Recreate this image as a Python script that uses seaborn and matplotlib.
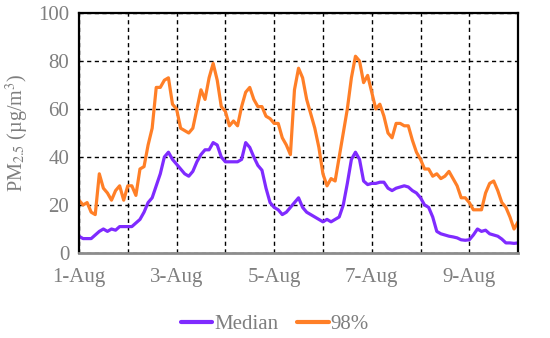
import pandas as pd
import seaborn as sns
import matplotlib.pyplot as plt
import matplotlib.dates as mdates

# PM2.5 readings every 2 hours, 1-Aug 00:00 to 10-Aug 00:00
start = '2019-08-01'
step = '2h'

median = [7, 6, 6, 6, 7.5, 9, 10, 9, 10, 9.5, 11, 11, 11, 11, 12.5, 14, 17, 21,
          23, 28, 33, 40, 42, 39, 37, 35, 33, 32, 34, 38, 41, 43, 43, 46, 45, 40,
          38, 38, 38, 38, 39, 46, 44, 40, 36.5, 34.5, 27, 21, 19, 18, 16, 17, 19, 21,
          23, 19, 17, 16, 15, 14, 13, 14, 13, 14, 15, 20, 29, 39, 42, 39, 30, 28.5,
          29, 29, 29.5, 29.5, 27, 26, 27, 27.5, 28, 27.5, 26, 25, 23, 20, 19, 15,
          9, 8, 7.5, 7, 6.7, 6.3, 5.5, 5.3, 5.5, 7.5, 10, 9, 9.5, 8, 7.5, 7,
          5.8, 4.2, 4.2, 4, 4.2]

p98 = [22, 20, 21, 17, 16, 33, 27, 25, 22, 26, 28, 22, 28, 28, 24, 35, 36, 45,
       52, 69, 69, 72, 73, 62, 60, 52, 51, 50, 52, 60, 68, 64, 73, 79, 72, 61,
       59, 53, 55, 53, 61, 67, 69, 64, 61, 61, 57, 56, 54, 54, 48, 45, 41, 68,
       77, 73, 64, 58, 52, 44, 33, 28, 31, 30, 40, 50, 60, 73, 82, 80, 71, 74,
       67, 60, 62, 57, 50, 48, 54, 54, 53, 53, 47, 42, 39, 35, 35, 32, 33, 31,
       32, 34, 31, 28, 23, 23, 21, 18, 18, 18, 25, 29, 30, 26, 21, 19, 15, 10,
       13]

series_names = ['Median', '98%']
colors = {'Median': '#7f2bff', '98%': '#ff7f27'}

times = pd.date_range(start, periods=len(median), freq=step)
df = pd.concat([
    pd.DataFrame({'time': times, 'value': median, 'series': 'Median'}),
    pd.DataFrame({'time': times, 'value': p98, 'series': '98%'}),
])

sns.set_style('white')
plt.rcParams['font.family'] = ['Liberation Serif', 'DejaVu Serif']
plt.rcParams['mathtext.fontset'] = 'stix'

grey = '#7f7f7f'
fig, ax = plt.subplots(figsize=(5.5, 3.38), dpi=100)
fig.subplots_adjust(left=0.1436, right=0.942, top=0.9615, bottom=0.2515)

sns.lineplot(data=df, x='time', y='value', hue='series', hue_order=series_names,
             palette=colors, linewidth=2.3, ax=ax)

ax.set_ylim(0, 100)
ax.set_xlim(times[0], times[-1])
ax.set_yticks(range(0, 101, 20))
ax.xaxis.set_major_locator(mdates.DayLocator(bymonthday=[1, 3, 5, 7, 9]))
ax.xaxis.set_minor_locator(mdates.DayLocator())
ax.xaxis.set_major_formatter(mdates.DateFormatter('%-d-%b'))

ax.set_axisbelow(True)
ax.grid(True, which='both', axis='x', color='black', linestyle=(0, (3, 2.5)), linewidth=1)
ax.grid(True, which='major', axis='y', color='black', linestyle=(0, (3, 2.5)), linewidth=1)

ax.tick_params(axis='y', length=0, labelsize=15, labelcolor=grey, pad=7)
ax.tick_params(axis='x', which='major', length=4, color='#cccccc', labelsize=15,
               labelcolor=grey, pad=7)
ax.tick_params(axis='x', which='minor', length=0)

for side in ['left', 'top', 'right']:
    ax.spines[side].set_color('black')
    ax.spines[side].set_linewidth(1.6)
ax.spines['bottom'].set_color('#8c8c8c')
ax.spines['bottom'].set_linewidth(2)

ax.set_xlabel('')
ax.set_ylabel('PM$_{2.5}$ (µg/m$^3$)', fontsize=14.5, color=grey, labelpad=5)

# legend centred on the figure, below the axes
handles, labels = ax.get_legend_handles_labels()
ax.get_legend().remove()
for h in handles:
    h.set_linewidth(3)
fig.legend(handles, labels, loc='center', bbox_to_anchor=(0.5, 0.04),
           ncol=2, frameon=False, fontsize=15, labelcolor=grey,
           handlelength=1.5, handletextpad=0.1, columnspacing=0.9)

fig.savefig('out.png', dpi=100)
